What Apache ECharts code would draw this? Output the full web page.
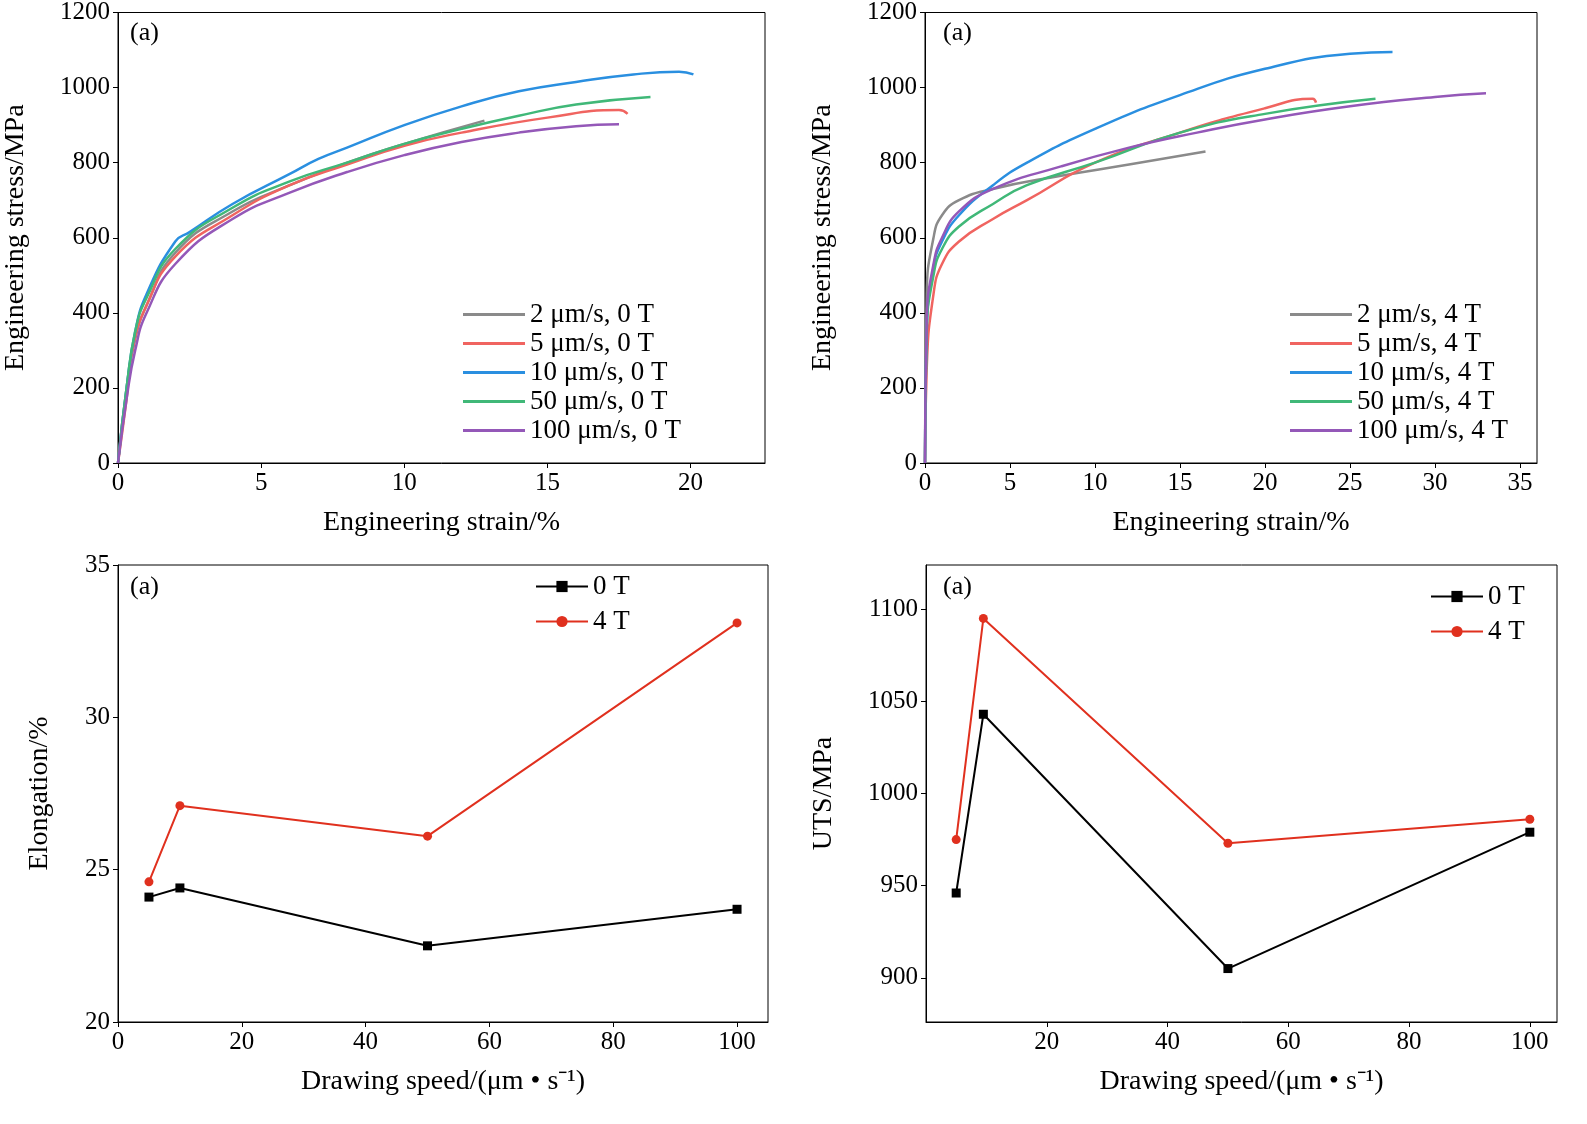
<!DOCTYPE html>
<html>
<head>
<meta charset="utf-8">
<script src="https://cdn.jsdelivr.net/npm/echarts@6/dist/echarts.min.js"></script>
<style>
* {margin:0; padding:0;}
body {background:#fff;}
#main {width:1587px; height:1124px;}
</style>
</head>
<body>
<div id="main"></div>
<script>
// stress-strain curves, 0 T  [strain %, stress MPa]
var s2_0T = [[0,0],[0.3,200],[0.6,330],[1,420],[2,560],[4,670],[6,740],[8,800],[10,850],[12.8,912]];
var s5_0T = [[0,0],[0.3,170],[0.5,300],[1,420],[2,550],[4,660],[6,740],[8,795],[10,845],[12,880],[15,920],[17.5,940],[17.8,930]];
var s10_0T = [[0,0],[0.3,200],[0.6,350],[1,450],[2,590],[2.5,615],[4,690],[6,770],[7,810],[8,840],[10,900],[12,950],[14,990],[16,1015],[18,1035],[19.6,1042],[20.1,1035]];
var s50_0T = [[0,0],[0.3,200],[0.6,350],[1,440],[2,570],[4,680],[6,750],[8,800],[10,850],[12,890],[14,925],[16,955],[18.6,975]];
var s100_0T = [[0,0],[0.3,170],[0.6,300],[1,400],[2,530],[4,650],[6,720],[8,775],[10,820],[12,855],[14,880],[16,897],[17.5,902]];
// stress-strain curves, 4 T
var s2_4T = [[0,0],[0.1,450],[0.5,600],[1,660],[2,700],[4,730],[8,765],[12,795],[16.5,830]];
var s5_4T = [[0,0],[0.1,250],[0.5,450],[1,530],[2,590],[4,650],[6,700],[10,800],[15,880],[20,945],[22.8,970],[23,960]];
var s10_4T = [[0,0],[0.1,350],[0.5,520],[1,590],[2,660],[4,740],[6,800],[10,890],[15,980],[20,1050],[25,1090],[27.5,1095]];
var s50_4T = [[0,0],[0.1,350],[0.5,500],[1,570],[2,630],[4,690],[6,740],[10,800],[15,880],[20,930],[26.5,970]];
var s100_4T = [[0,0],[0.1,380],[0.5,530],[1,600],[2,670],[4,730],[8,790],[12,840],[16,880],[20,915],[25,950],[30,975],[33,985]];

var speeds = [5, 10, 50, 100];
var speedsUts = [5, 9.5, 50, 100];
var elong0T = [24.1, 24.4, 22.5, 23.7];
var elong4T = [24.6, 27.1, 26.1, 33.1];
var uts0T = [946, 1043, 905, 979];
var uts4T = [975, 1095, 973, 986];

var names0T = ['2 μm/s, 0 T','5 μm/s, 0 T','10 μm/s, 0 T','50 μm/s, 0 T','100 μm/s, 0 T'];
var names4T = ['2 μm/s, 4 T','5 μm/s, 4 T','10 μm/s, 4 T','50 μm/s, 4 T','100 μm/s, 4 T'];
var curveColors = ['#8a8a8a','#f06460','#2a8fe0','#40b878','#9458b8'];

var font = 'Liberation Serif';
var chart = echarts.init(document.getElementById('main'));

function zip(xs, ys) { return xs.map(function (x, i) { return [x, ys[i]]; }); }
function ticks(a, b, s) { var r = []; for (var v = a; v <= b + 1e-9; v += s) r.push(v); return r; }
function plain(v) { return String(v); }

function xAx(idx, max, vals, name) {
  return {type:'value', gridIndex:idx, min:0, max:max, name:name, nameLocation:'middle', nameGap:46,
    nameTextStyle:{fontFamily:font, fontSize:28, color:'#000'},
    axisLine:{show:true, onZero:false, lineStyle:{color:'#000'}},
    axisTick:{show:true, customValues:vals, length:5, lineStyle:{color:'#000'}},
    axisLabel:{customValues:vals, formatter:plain, fontFamily:font, fontSize:25, color:'#000', margin:8},
    splitLine:{show:false}};
}
function yAx(idx, min, max, vals, name, gap) {
  return {type:'value', gridIndex:idx, min:min, max:max, name:name, nameLocation:'middle', nameGap:gap,
    nameTextStyle:{fontFamily:font, fontSize:28, color:'#000'},
    axisLine:{show:true, onZero:false, lineStyle:{color:'#000'}},
    axisTick:{show:true, customValues:vals, length:5, lineStyle:{color:'#000'}},
    axisLabel:{customValues:vals, formatter:plain, fontFamily:font, fontSize:25, color:'#000', margin:8},
    splitLine:{show:false}};
}

var grids = [
  {left:118, top:12, width:647, height:451},
  {left:925, top:12, width:612, height:451},
  {left:118, top:565, width:650, height:457},
  {left:926, top:565, width:631, height:457}
].map(function (g) { g.show = true; g.borderColor = '#000'; g.borderWidth = 1; g.backgroundColor = 'transparent'; return g; });

var series = [];
[s2_0T, s5_0T, s10_0T, s50_0T, s100_0T].forEach(function (d, i) {
  series.push({name:names0T[i], type:'line', xAxisIndex:0, yAxisIndex:0, data:d, smooth:true, showSymbol:false,
    lineStyle:{width:2.5, color:curveColors[i]}, itemStyle:{color:curveColors[i]}});
});
[s2_4T, s5_4T, s10_4T, s50_4T, s100_4T].forEach(function (d, i) {
  series.push({name:names4T[i], type:'line', xAxisIndex:1, yAxisIndex:1, data:d, smooth:true, showSymbol:false,
    lineStyle:{width:2.5, color:curveColors[i]}, itemStyle:{color:curveColors[i]}});
});
series.push({name:'0 T', type:'line', xAxisIndex:2, yAxisIndex:2, data:zip(speeds, elong0T), symbol:'rect', symbolSize:9,
  lineStyle:{width:2, color:'#000'}, itemStyle:{color:'#000'}});
series.push({name:'4 T', type:'line', xAxisIndex:2, yAxisIndex:2, data:zip(speeds, elong4T), symbol:'circle', symbolSize:9,
  lineStyle:{width:2, color:'#e0301e'}, itemStyle:{color:'#e0301e'}});
series.push({name:'0 T ', type:'line', xAxisIndex:3, yAxisIndex:3, data:zip(speedsUts, uts0T), symbol:'rect', symbolSize:9,
  lineStyle:{width:2, color:'#000'}, itemStyle:{color:'#000'}});
series.push({name:'4 T ', type:'line', xAxisIndex:3, yAxisIndex:3, data:zip(speedsUts, uts4T), symbol:'circle', symbolSize:9,
  lineStyle:{width:2, color:'#e0301e'}, itemStyle:{color:'#e0301e'}});

var legTxt = {fontFamily:font, fontSize:27, color:'#000'};
function panelLabel(x, y) {
  return {type:'text', left:x, top:y, style:{text:'(a)', font:'26px "Liberation Serif"', fill:'#000'}};
}

chart.setOption({
  animation:false,
  grid:grids,
  xAxis:[
    xAx(0, 22.6, ticks(0, 20, 5), 'Engineering strain/%'),
    xAx(1, 36, ticks(0, 35, 5), 'Engineering strain/%'),
    xAx(2, 105, ticks(0, 100, 20), 'Drawing speed/(μm • s⁻¹)'),
    xAx(3, 104.5, ticks(20, 100, 20), 'Drawing speed/(μm • s⁻¹)')
  ],
  yAxis:[
    yAx(0, 0, 1200, ticks(0, 1200, 200), 'Engineering stress/MPa', 88),
    yAx(1, 0, 1200, ticks(0, 1200, 200), 'Engineering stress/MPa', 88),
    yAx(2, 20, 35, ticks(20, 35, 5), 'Elongation/%', 64),
    yAx(3, 876, 1124, ticks(900, 1100, 50), 'UTS/MPa', 88)
  ],
  legend:[
    {data:names0T, orient:'vertical', left:458, top:296, itemWidth:62, itemHeight:3, itemGap:2,
      icon:'rect', textStyle:legTxt},
    {data:names4T, orient:'vertical', left:1285, top:296, itemWidth:62, itemHeight:3, itemGap:2,
      icon:'rect', textStyle:legTxt},
    {data:[{name:'0 T'}, {name:'4 T'}], orient:'vertical', left:530, top:568, itemWidth:52, itemGap:8, textStyle:legTxt},
    {data:[{name:'0 T '}, {name:'4 T '}], orient:'vertical', left:1425, top:578, itemWidth:52, itemGap:8, textStyle:legTxt}
  ],
  graphic:[panelLabel(130, 20), panelLabel(943, 20), panelLabel(130, 574), panelLabel(943, 574)],
  series:series
});
</script>
</body>
</html>
